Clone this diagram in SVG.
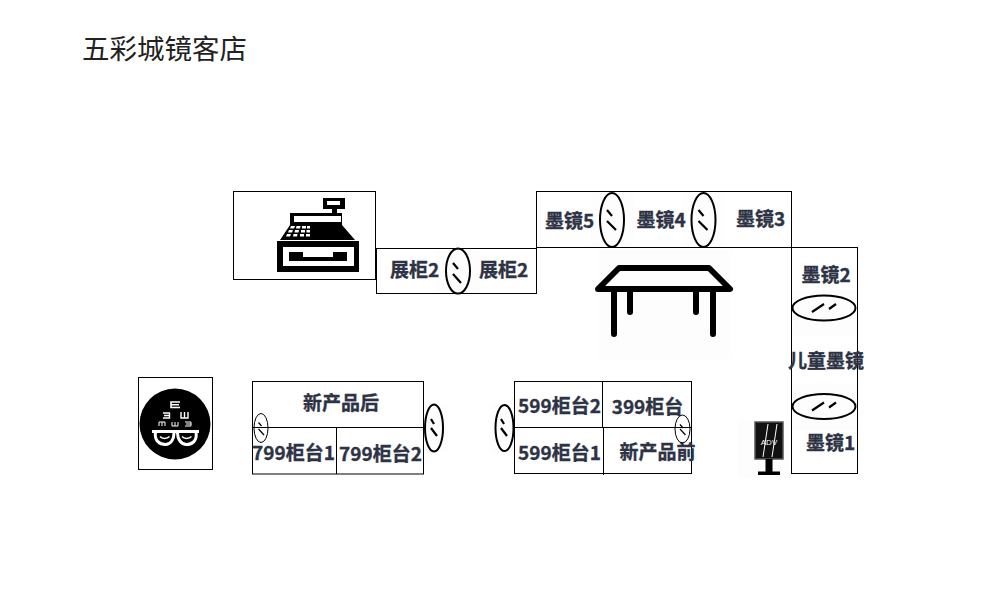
<svg xmlns="http://www.w3.org/2000/svg" width="1000" height="600" viewBox="0 0 1000 600">
<style>
.box{fill:none;stroke:#000;stroke-width:1}
.lbl{font-family:"Noto Sans CJK SC","Liberation Sans",sans-serif;font-size:19px;font-weight:700;fill:#2d3345;stroke:#2d3345;stroke-width:.35;text-anchor:middle}
.title{font-family:"Liberation Serif","Noto Sans CJK SC",serif;font-size:27.500px;fill:#222}
.mir{fill:none;stroke:#000;stroke-width:2}
.sl{fill:none;stroke:#000;stroke-width:2.200}
.bg{fill:#fdfdfd}
.w{fill:#fff}
.ws{fill:none;stroke:#fff}
.leg{fill:none;stroke:#000;stroke-width:6;stroke-linecap:round;stroke-linejoin:round}
</style>
<defs>
<g id="mv"><ellipse class="mir" cx="0" cy="0" rx="12" ry="27"/><path class="sl" d="M-5,-10L0,-4M-5,1L4,10"/></g>
<g id="mh"><ellipse class="mir" cx="0" cy="0" rx="31.500" ry="12.500"/><path class="sl" d="M-12,4L0,-4M5,1L12,-4"/></g>
</defs>
<rect width="1000" height="600" fill="#fff"/>
<text class="title" x="82" y="59">五彩城镜客店</text>

<g id="backdrops">
<rect class="bg" x="598" y="250" width="133" height="109"/>
<rect class="bg" x="738" y="420" width="55" height="58"/>
<rect class="bg" x="793" y="290" width="63" height="45"/>
<rect class="bg" x="793" y="385" width="63" height="45"/>
<rect class="bg" x="436" y="250" width="44" height="43"/>
<rect class="bg" x="591" y="192" width="42" height="55"/>
<rect class="bg" x="684" y="192" width="40" height="55"/>
<rect class="bg" x="424" y="404" width="24" height="48"/>
<rect class="bg" x="490" y="404" width="24" height="48"/>
</g>

<g id="cashier-area">
<rect class="box" x="233.500" y="191.500" width="142" height="88"/>
<g id="register">
<rect x="277" y="241" width="82" height="31"/>
<rect class="w" x="283" y="247" width="71" height="19"/>
<path d="M289,252H303V257H333V252H347V261H289Z"/>
<path d="M280,240L290,225V213H342V225L355,240Z"/>
<rect class="w" x="294" y="216" width="47" height="6"/>
<rect x="332" y="208" width="5" height="6"/>
<rect x="323" y="198" width="22" height="11"/>
<rect class="w" x="327" y="201" width="13" height="4"/>
<path class="w" d="M291,226h4l-1,2.500h-4zM296.500,226h4l-.5,2.500h-4zM302,226h4v2.500h-4zM307,226h3v2.500h-3zM289,230h4l-1,2.500h-4zM295,230h4l-.5,2.500h-4zM301,230h4v2.500h-4zM306.500,230h3.500v2.500h-3.500zM287,234h4l-1,2.500h-4zM293.500,234h4l-.5,2.500h-4zM300,234h4v2.500h-4zM306,234h4v2.500h-4z"/>
</g>
</g>

<g id="display-2">
<rect class="box" x="376.500" y="248.500" width="160" height="45"/>
<text class="lbl" x="414.500" y="277">展柜2</text>
<text class="lbl" x="503.500" y="277">展柜2</text>
<ellipse class="mir" cx="458" cy="271" rx="12" ry="22.500"/>
<path class="sl" d="M453,263L458,269M453,274L461,283"/>
</g>

<g id="sunglass-top">
<rect class="box" x="536.500" y="191.500" width="255" height="56"/>
<text class="lbl" x="569.500" y="228">墨镜5</text>
<text class="lbl" x="661" y="227">墨镜4</text>
<text class="lbl" x="760.500" y="226">墨镜3</text>
<use href="#mv" x="612" y="220"/>
<use href="#mv" x="703.500" y="220"/>
</g>

<g id="table">
<path class="leg" d="M598,289L619,268H709L730,289Z"/>
<path class="leg" d="M614,291V334M630,291V312M696,291V312M713,291V334"/>
</g>

<g id="sunglass-right">
<rect class="box" x="791.500" y="247.500" width="66" height="226"/>
<text class="lbl" x="826" y="282">墨镜2</text>
<text class="lbl" x="826" y="368">儿童墨镜</text>
<text class="lbl" x="830.500" y="450">墨镜1</text>
<use href="#mh" x="824" y="308"/>
<use href="#mh" x="824" y="406.500"/>
</g>

<g id="adv-stand">
<rect x="755" y="422" width="28" height="37" fill="#111" stroke="#555" stroke-width="1.500"/>
<path class="ws" d="M763,457L768,424M772,457L777,424" stroke-width="1"/>
<text x="769" y="445" font-family="Liberation Sans,sans-serif" font-size="8" fill="#fff" text-anchor="middle">ADV</text>
<rect x="765.500" y="459" width="7" height="13"/>
<rect x="758" y="471.500" width="22" height="3.500"/>
</g>

<g id="eye-chart">
<rect class="box" x="138.500" y="377.500" width="74" height="92"/>
<circle cx="175" cy="424" r="35.500"/>
<path class="ws" stroke-width="1.600" d="M180,402H171V407.500H180M171,404.700H179"/>
<path class="ws" stroke-width="1.400" d="M163,413H169.500V418H163M164,415.500H169.500"/>
<path class="ws" stroke-width="1.400" d="M181,412V418H188V412M184.500,412V418"/>
<path class="ws" stroke-width="1" d="M159,426V422H165V426M162,422V426"/>
<path class="ws" stroke-width="1" d="M172,422V426H178V422M175,422V426"/>
<path class="ws" stroke-width="1" d="M185,422H191V426H185M186,424H191"/>
<path class="ws" stroke-width="3" d="M152,431.500H199"/>
<path class="ws" stroke-width="3" d="M155.500,432C154,441 160,444.500 165.500,444.500C171,444.500 174,439 174,433M177.500,433C177.500,439 181,444.500 186.500,444.500C192,444.500 197.500,441 196,432"/>
<path class="ws" stroke-width="1.500" d="M160,436.500C162,439 167,439 169.500,436.500M182,436.500C184,439 189,439 191.500,436.500"/>
</g>

<g id="799-counter">
<rect class="box" x="252.500" y="381.500" width="171" height="92.500"/>
<path class="box" d="M252.500,427.500H423.500M336.500,427.500V474"/>
<text class="lbl" x="341" y="410">新产品后</text>
<text class="lbl" x="293.500" y="460">799柜台1</text>
<text class="lbl" x="380.500" y="461">799柜台2</text>
<ellipse cx="261" cy="428" rx="7" ry="14.500" fill="none" stroke="#000" stroke-width="1"/>
<path class="sl" style="stroke-width:1.200" d="M258.500,422.500L261.500,426M258.500,429L264,435"/>
<ellipse class="mir" cx="434" cy="428" rx="9" ry="23.500"/>
<path class="sl" d="M431,419L434,424M431,428L437,436"/>
</g>

<g id="599-counter">
<rect class="box" x="514.500" y="381.500" width="177" height="92"/>
<path class="box" d="M514.500,427.500H691.500M602.500,381.500V427.500M603.500,427.500V475"/>
<text class="lbl" x="559.500" y="413">599柜台2</text>
<text class="lbl" x="647.500" y="414">399柜台</text>
<text class="lbl" x="559.500" y="460">599柜台1</text>
<text class="lbl" x="657.500" y="459">新产品前</text>
<ellipse class="mir" cx="504.500" cy="428" rx="9" ry="23"/>
<path class="sl" d="M501,419L504,424M501,428L507,436"/>
<ellipse cx="682.500" cy="429" rx="7.500" ry="14" fill="none" stroke="#000" stroke-width="1"/>
<path class="sl" style="stroke-width:1.200" d="M680,424.500L683,428M680,429L685.500,435"/>
</g>
</svg>
